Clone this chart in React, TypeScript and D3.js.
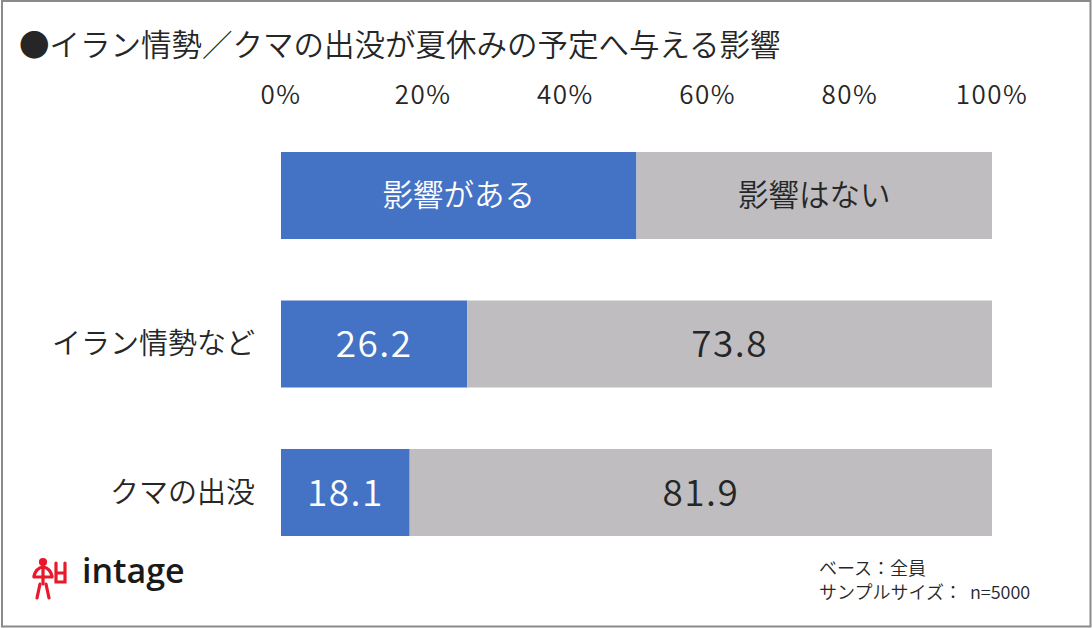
import React from "react";
import * as d3 from "d3";

const title = "●イラン情勢／クマの出没が夏休みの予定へ与える影響";
const ticks = [0, 20, 40, 60, 80, 100];
const legendLabels = ["影響がある", "影響はない"];
const categories = ["イラン情勢など", "クマの出没"];
const yesValues = [26.2, 18.1];
const noValues = [73.8, 81.9];
const footnotes = ["ベース：全員", "サンプルサイズ：  n=5000"];

const W = 1092;
const H = 628;
const FONT = "'Noto Sans CJK JP', 'Noto Sans', sans-serif";
const BLUE = "#4472C4";
const GRAY = "#BFBDC0";
const TEXT = "#262626";

export default function App() {
  const x = d3.scaleLinear().domain([0, 100]).range([281, 992]);
  const rows = ["legend", ...categories];
  const y = d3.scaleBand().domain(rows).range([152, 536]).paddingInner(0.414).paddingOuter(0);
  const bh = y.bandwidth();

  const rowData = [
    { key: "legend", a: 50, b: 50, la: legendLabels[0], lb: legendLabels[1], size: 30.5, ls: 0 },
    ...categories.map((c, i) => ({
      key: c,
      a: yesValues[i],
      b: noValues[i],
      la: yesValues[i].toFixed(1),
      lb: noValues[i].toFixed(1),
      size: 37,
      ls: 1.5,
    })),
  ];

  return (
    <div style={{ position: "absolute", left: 0, top: 0 }}>
      <svg width={W} height={H} style={{ display: "block", fontFamily: FONT }} fontWeight={350}>
        <rect x={0} y={0} width={W} height={H} fill="#ffffff" />
        <rect x={2} y={1} width={W - 3.5} height={H - 2.5} fill="none" stroke="#8a8a8a" strokeWidth={2} />
        <text x={19} y={56} fontSize={30.5} fill={TEXT}>{title}</text>
        {ticks.map((t) => (
          <text key={t} x={x(t)} y={104} fontSize={26} letterSpacing={1.5} fill={TEXT} textAnchor="middle">{t}%</text>
        ))}
        {rowData.map((r) => {
          const y0 = y(r.key)!;
          const cy = y0 + bh / 2;
          return (
            <g key={r.key}>
              <rect x={x(0)} y={y0} width={x(r.a) - x(0)} height={bh} fill={BLUE} />
              <rect x={x(r.a)} y={y0} width={x(r.a + r.b) - x(r.a)} height={bh} fill={GRAY} />
              <text x={(x(0) + x(r.a)) / 2} y={cy} dy="0.36em" fontSize={r.size} letterSpacing={r.ls} fill="#ffffff" textAnchor="middle">{r.la}</text>
              <text x={(x(r.a) + x(r.a + r.b)) / 2} y={cy} dy="0.36em" fontSize={r.size} letterSpacing={r.ls} fill={TEXT} textAnchor="middle">{r.lb}</text>
              {r.key !== "legend" && (
                <text x={255} y={cy} dy="0.36em" fontSize={29} fill={TEXT} textAnchor="end">{r.key}</text>
              )}
            </g>
          );
        })}
        <g stroke="#e8192c" strokeWidth={3.2} fill="none" strokeLinecap="round">
          <circle cx={43} cy={562} r={2.5} fill="#e8192c" />
          <line x1={43} y1={565} x2={43} y2={584} />
          <path d="M34,576 Q36,568 43,567 Q50,568 52,576" />
          <line x1={34} y1={577} x2={52} y2={577} />
          <line x1={40} y1={584} x2={37} y2={598} />
          <line x1={46} y1={584} x2={49} y2={598} />
          <path d="M56,563 L56,582 L65,582 L65,563 M56,573 L65,573" />
        </g>
        <text x={82} y={583} fontSize={34} fontWeight={600} fill="#1a1a1a" fontFamily="'Open Sans', sans-serif">intage</text>
        <text x={819} y={575} fontSize={18} fill={TEXT}>{footnotes[0]}</text>
        <text x={819} y={599} fontSize={18} fill={TEXT} xmlSpace="preserve">{footnotes[1]}</text>
      </svg>
    </div>
  );
}
